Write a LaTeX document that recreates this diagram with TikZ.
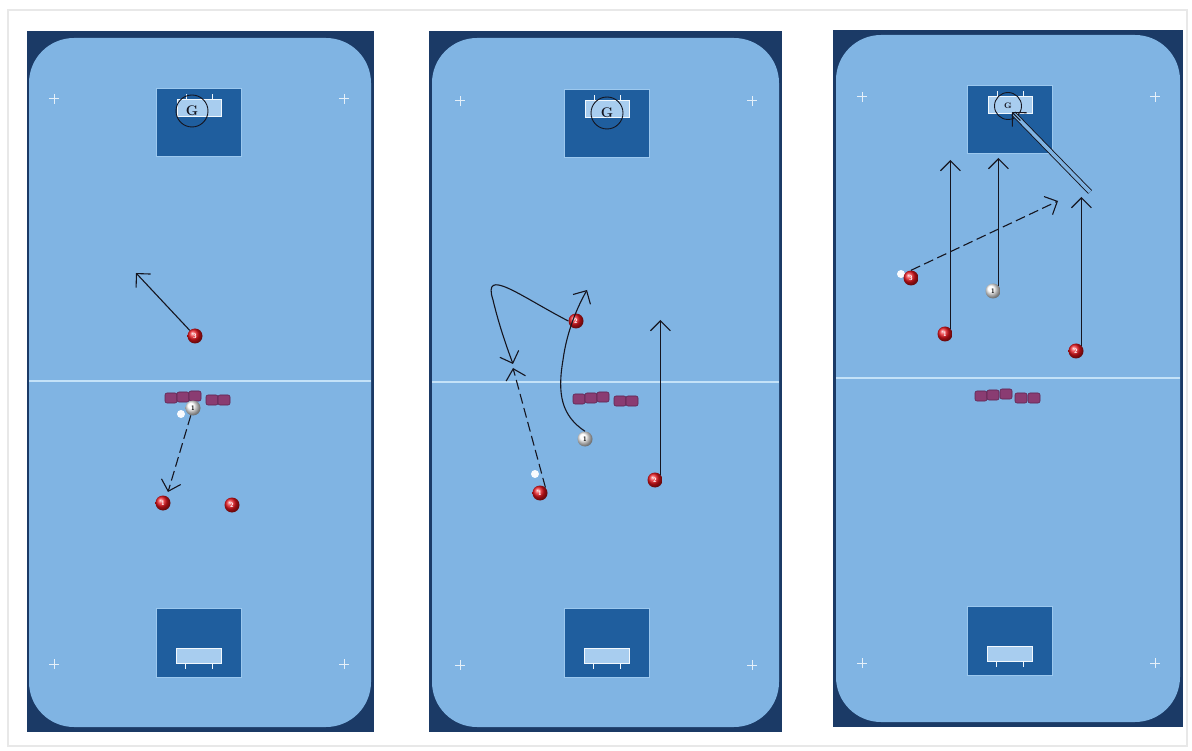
\documentclass[tikz,border=0pt]{standalone}
\usetikzlibrary{arrows.meta,calc}
\definecolor{navy}{HTML}{1B3A66}
\definecolor{courtc}{HTML}{80B4E3}
\definecolor{boxc}{HTML}{1F5E9E}
\definecolor{boxedge}{HTML}{9CC8EE}
\definecolor{barc}{HTML}{A8CDEF}
\definecolor{linec}{HTML}{C4E2F8}
\definecolor{conec}{HTML}{8A3C72}
\definecolor{conee}{HTML}{5E2450}
\definecolor{ink}{HTML}{15151F}
\definecolor{redball}{HTML}{E8141C}
\tikzset{
  frame/.style={fill=navy},
  court/.style={fill=courtc, rounded corners=45pt},
  midline/.style={draw=linec, line width=1.5pt},
  goalbox/.style={fill=boxc, draw=boxedge, line width=0.8pt},
  goalbar/.style={fill=barc, draw=white!85!barc, line width=0.8pt},
  post/.style={draw=white!85!barc, line width=0.8pt},
  plusmark/.style={draw=white!80!courtc, line width=1pt},
  cone/.style={draw=conee, fill=conec, rounded corners=2pt, line width=0.6pt},
  redp/.style={circle, shading=ball, ball color=redball, minimum size=15pt, inner sep=0pt,
     text=white, font=\fontsize{6.5}{6.5}\selectfont\bfseries\sffamily},
  whitep/.style={circle, shading=ball, ball color=white, minimum size=15pt, inner sep=0pt,
     text=black, font=\fontsize{6.5}{6.5}\selectfont\bfseries\sffamily},
  ballw/.style={circle, fill=white!95!courtc, minimum size=8pt, inner sep=0pt},
  gcirc/.style={circle, draw=ink, line width=0.9pt, minimum size=32pt, inner sep=0pt,
     font=\fontsize{14}{14}\selectfont\bfseries\rmfamily, text=ink},
  gcircs/.style={circle, draw=ink, line width=0.9pt, minimum size=27pt, inner sep=0pt,
     font=\fontsize{8}{8}\selectfont\bfseries\rmfamily, text=ink},
  move/.style={draw=ink, line width=1.1pt, -{Straight Barb[length=10pt,width=20pt,line width=1.1pt]}},
  pass/.style={move, dash pattern=on 10pt off 4.5pt},
  shot/.style={draw=ink, line width=0.9pt, double=courtc, double distance=3.5pt, shorten >=2pt},
}
\newcommand{\topgoal}[2]{%
  \draw[goalbox] (#1,#2) rectangle ++(85,68);
  \draw[post] (#1+30,#2+11) -- ++(0,-5);
  \draw[post] (#1+56,#2+11) -- ++(0,-5);
  \draw[goalbar] (#1+21,#2+11) rectangle ++(44,17);}
\newcommand{\botgoal}[2]{%
  \draw[goalbox] (#1,#2) rectangle ++(85,69);
  \draw[post] (#1+29,#2+54) -- ++(0,7);
  \draw[post] (#1+56,#2+54) -- ++(0,7);
  \draw[goalbar] (#1+20,#2+40) rectangle ++(45,15);}
\newcommand{\plusat}[2]{%
  \draw[plusmark] (#1-5,#2) -- (#1+5,#2) (#1,#2-5) -- (#1,#2+5);}
\newcommand{\conepiece}[2]{%
  \draw[cone] (#1-6,#2-5) rectangle (#1+6,#2+5);}
\begin{document}
\begin{tikzpicture}[x=1pt,y=-1pt]
\useasboundingbox (0,0) rectangle (1192,751);
\fill[white] (0,0) rectangle (1192,751);
\draw[black!9, line width=1.5pt] (8,10) rectangle (1187,746);

% ---------- Panel 1 ----------
\fill[frame] (27,31) rectangle (374,732);
\fill[court] (29,38) rectangle (371,727);
\draw[midline] (29,381) -- (371,381);
\topgoal{156}{88}
\botgoal{156}{608}
\node[gcirc] (p1G) at (192,111) {G};
\plusat{54}{99}\plusat{344}{99}\plusat{54}{664}\plusat{344}{664}
\foreach \x/\y in {171/398,183/397,195/396,212/400,224/400} {\conepiece{\x}{\y}}
\node[redp] (p1r3) at (195,336) {3};
\coordinate (p1t3) at (136,273);
\draw[move] (p1r3) -- (p1t3);
\node[ballw] (p1b) at (181,414) {};
\node[whitep] (p1w1) at (193,408) {1};
\coordinate (p1t1) at (168,492);
\draw[pass] (p1w1) -- (p1t1);
\node[redp] (p1r1) at (163,503) {1};
\node[redp] (p1r2) at (232,505) {2};

% ---------- Panel 2 ----------
\fill[frame] (429,31) rectangle (782,732);
\fill[court] (432,38) rectangle (779,727);
\draw[midline] (432,382) -- (779,382);
\topgoal{564}{89}
\botgoal{564}{608}
\node[gcirc] (p2G) at (607,113) {G};
\plusat{460}{101}\plusat{752}{101}\plusat{460}{665}\plusat{752}{665}
\foreach \x/\y in {579/399,591/398,603/397,620/401,632/401} {\conepiece{\x}{\y}}
\node[ballw] (p2b) at (535,474) {};
\node[redp] (p2r1) at (540,493) {1};
\coordinate (p2t1) at (513,368);
\draw[pass] (p2r1.north east) -- (p2t1);
\node[redp] (p2r3) at (576,321) {2};
\coordinate (p2t3) at (513,364);
\draw[move] (p2r3.west) .. controls (520,296) and (482,266) .. (493,300)
   .. controls (499,325) and (506,345) .. (p2t3);
\node[whitep] (p2w1) at (585,439) {1};
\coordinate (p2t4) at (587,290);
\draw[move] (p2w1.north) .. controls (562,416) and (557,395) .. (563,360)
   .. controls (567,330) and (578,306) .. (p2t4);
\node[redp] (p2r2) at (655,480) {2};
\coordinate (p2t2) at (663,320);
\draw[move] (p2r2.north east) -- (p2r2.north east |- p2t2);

% ---------- Panel 3 ----------
\fill[frame] (833,30) rectangle (1183,727);
\fill[court] (836,35) rectangle (1180,722);
\draw[midline] (836,378) -- (1180,378);
\topgoal{967}{85}
\botgoal{967}{606}
\node[gcircs] (p3G) at (1008,106) {G};
\plusat{862}{97}\plusat{1155}{97}\plusat{862}{663}\plusat{1155}{663}
\foreach \x/\y in {981/396,993/395,1006/394,1021/398,1034/398} {\conepiece{\x}{\y}}
\node[ballw] (p3b) at (901,274) {};
\node[redp] (p3r3) at (911,278) {3};
\coordinate (p3t3) at (1058,201);
\draw[pass] (p3r3.north) -- (p3t3);
\node[redp] (p3r1) at (945,334) {1};
\coordinate (p3t1) at (949,160);
\draw[move] (p3r1.north east) -- (p3r1.north east |- p3t1);
\node[whitep] (p3w1) at (993,291) {1};
\coordinate (p3t4) at (1000,158);
\draw[move] (p3w1.north east) -- (p3w1.north east |- p3t4);
\node[redp] (p3r2) at (1076,351) {2};
\coordinate (p3t2) at (1083,197);
\draw[move] (p3r2.north east) -- (p3r2.north east |- p3t2);
\coordinate (p3s) at (1090,192);
\coordinate (p3g) at (1012,112);
\draw[shot] (p3s) -- (p3g);
\draw[move] ($(p3g)!12pt!(p3s)$) -- (p3g);
\end{tikzpicture}
\end{document}
